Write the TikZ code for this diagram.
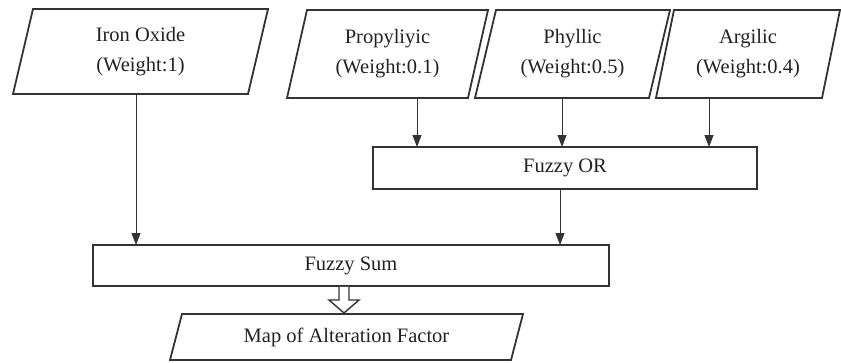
\documentclass[tikz,border=0pt]{standalone}
\usepackage{fontspec}
\setmainfont{Liberation Serif}
\usetikzlibrary{arrows.meta,calc}
\definecolor{ink}{HTML}{222222}
\definecolor{edge}{HTML}{333333}
\begin{document}
\begin{tikzpicture}[x=1pt,y=-1pt,
  txt/.style={inner sep=0pt, outer sep=0pt, align=center, text=ink,
    font=\fontsize{20.5}{30}\selectfont},
  box/.style={txt, draw=edge, line width=1.8pt, rectangle},
  io/.style={txt, draw=none, rectangle},
  outline/.style={draw=edge, line width=1.8pt, line join=miter},
  arr/.style={draw=edge, line width=1pt, -{Triangle[width=9pt,length=12pt]}},
]
\useasboundingbox (0,0) rectangle (841,362);
% input parallelograms (nodes sized to their bounding boxes)
\node[io, minimum width=255, minimum height=85] (iron) at (140.5,51.5) {\rule{0pt}{10pt}Iron Oxide\\(Weight:1)};
\node[io, minimum width=201, minimum height=88] (prop) at (387.5,54) {Propyliyic\\(Weight:0.1)};
\node[io, minimum width=195, minimum height=88] (phyl) at (572.5,54) {Phyllic\\(Weight:0.5)};
\node[io, minimum width=184, minimum height=88] (argi) at (748,54) {Argilic\\(Weight:0.4)};
\foreach \n/\s in {iron/20,prop/20,phyl/21,argi/18}{
  \draw[outline] ([xshift=\s]\n.north west) -- (\n.north east)
    -- ([xshift=-\s]\n.south east) -- (\n.south west) -- cycle;
}
% operators
\node[box, minimum width=384, minimum height=42] (or) at (565,168) {Fuzzy OR};
\node[box, minimum width=516, minimum height=41] (sum) at (351,265.5) {Fuzzy Sum};
% output
\node[io, minimum width=353, minimum height=46] (map) at (346.5,337) {Map of Alteration Factor};
\draw[outline] ([xshift=12]map.north west) -- (map.north east)
  -- ([xshift=-12]map.south east) -- (map.south west) -- cycle;
% connectors
\draw[arr] ([xshift=-4.5]iron.south) -- ([xshift=-4.5]iron.south |- sum.north);
\draw[arr] ([xshift=29.5]prop.south) -- ([xshift=29.5]prop.south |- or.north);
\draw[arr] ([xshift=-10.5]phyl.south) -- ([xshift=-10.5]phyl.south |- or.north);
\draw[arr] ([xshift=-39]argi.south) -- ([xshift=-39]argi.south |- or.north);
\draw[arr] ([xshift=-5]or.south) -- ([xshift=-5]or.south |- sum.north);
% hollow block arrow
\coordinate (ha) at ([xshift=-7]sum.south);
\draw[draw=edge, line width=1.4pt, fill=white, line join=miter]
  ($(ha)+(-5,0.9)$) -- ($(ha)+(-5,14)$) -- ($(ha)+(-15,14)$) -- ($(map.north -| ha)+(0,-1)$)
  -- ($(ha)+(15,14)$) -- ($(ha)+(5,14)$) -- ($(ha)+(5,0.9)$);
\end{tikzpicture}
\end{document}
